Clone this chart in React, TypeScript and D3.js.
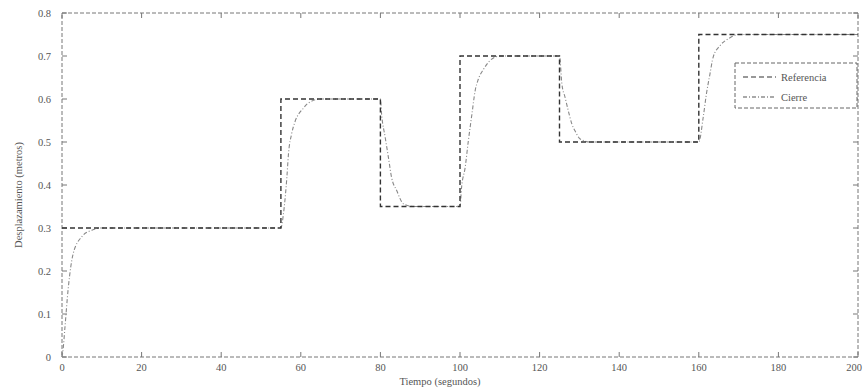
import React from "react";
import * as d3 from "d3";

const W = 863;
const H = 392;

// Reference (step) signal
const refTimes = [0, 55, 80, 100, 125, 160, 200];
const refValues = [0.3, 0.6, 0.35, 0.7, 0.5, 0.75, 0.75];

// Response curve, points
const respTimes = [
  0, 0.3, 0.75, 1.6, 2.8, 4.9, 7.5, 10,
  55, 55.6, 56.5, 56.9, 57.7, 58.5, 60.6, 61.8, 65,
  80, 80.3, 81.2, 82, 82.8, 84.1, 85.8, 88.2, 91,
  100, 100.4, 101.3, 102.1, 103, 103.8, 104.6, 105.9, 107.5, 110,
  125, 125.6, 126.4, 127.2, 128.1, 128.9, 130.2, 132.7, 135,
  160, 161.1, 161.9, 162.8, 163.6, 165.3, 167.4, 170,
  200,
];
const respValues = [
  0, 0.02, 0.07, 0.163, 0.24, 0.279, 0.295, 0.3,
  0.3, 0.33, 0.418, 0.472, 0.519, 0.546, 0.578, 0.59, 0.6,
  0.6, 0.565, 0.511, 0.465, 0.418, 0.387, 0.356, 0.35, 0.35,
  0.35, 0.395, 0.441, 0.503, 0.565, 0.619, 0.646, 0.669, 0.689, 0.7,
  0.7, 0.635, 0.604, 0.573, 0.542, 0.526, 0.507, 0.5, 0.5,
  0.5, 0.557, 0.611, 0.658, 0.697, 0.724, 0.74, 0.75,
  0.75,
];

const xTicks = [0, 20, 40, 60, 80, 100, 120, 140, 160, 180, 200];
const yTicks = [0, 0.1, 0.2, 0.3, 0.4, 0.5, 0.6, 0.7, 0.8];
const legendLabels = ["Referencia", "Cierre"];
const xLabel = "Tiempo (segundos)";
const yLabel = "Desplazamiento (metros)";

export default function App() {
  const left = 62, right = 858, top = 13, bottom = 357;
  const x = d3.scaleLinear().domain([0, 200]).range([left, right]);
  const y = d3.scaleLinear().domain([0, 0.8]).range([bottom, top]);

  const refPts: [number, number][] = refTimes.map((t, i) => [t, refValues[i]]);
  const respPts: [number, number][] = respTimes.map((t, i) => [t, respValues[i]]);

  const refLine = d3
    .line<[number, number]>()
    .x((d) => x(d[0]))
    .y((d) => y(d[1]))
    .curve(d3.curveStepAfter)(refPts) as string;
  const respLine = d3
    .line<[number, number]>()
    .x((d) => x(d[0]))
    .y((d) => y(d[1]))
    .curve(d3.curveMonotoneX)(respPts) as string;

  const font = "'Liberation Serif', serif";
  const axisColor = "#777";
  const textColor = "#555";
  const tl = 5;

  return (
    <div style={{ position: "absolute", left: 0, top: 0 }}>
      <svg width={W} height={H} style={{ display: "block", background: "#fff" }}>
        {/* frame */}
        <rect
          x={left}
          y={top}
          width={right - left}
          height={bottom - top}
          fill="none"
          stroke={axisColor}
          strokeWidth={1}
          strokeDasharray="4,2"
        />
        {/* ticks */}
        {xTicks.map((t) => (
          <g key={"xt" + t}>
            <line x1={x(t)} x2={x(t)} y1={bottom} y2={bottom - tl} stroke={axisColor} />
            <line x1={x(t)} x2={x(t)} y1={top} y2={top + tl} stroke={axisColor} />
            <text
              x={t === 200 ? W - 1 : x(t)}
              y={371}
              textAnchor={t === 200 ? "end" : "middle"}
              fontFamily={font}
              fontSize={10.5}
              fill={textColor}
            >
              {t}
            </text>
          </g>
        ))}
        {yTicks.map((t) => (
          <g key={"yt" + t}>
            <line x1={left} x2={left + tl} y1={y(t)} y2={y(t)} stroke={axisColor} />
            <line x1={right} x2={right - tl} y1={y(t)} y2={y(t)} stroke={axisColor} />
            <text
              x={51}
              y={y(t) + 3.5}
              textAnchor="end"
              fontFamily={font}
              fontSize={10.5}
              fill={textColor}
            >
              {t === 0 ? "0" : t.toFixed(1)}
            </text>
          </g>
        ))}
        {/* lines */}
        <path d={respLine} fill="none" stroke="#888" strokeWidth={1.1} strokeDasharray="4,2,1,2" />
        <path d={refLine} fill="none" stroke="#333" strokeWidth={1.4} strokeDasharray="5,3" />
        {/* axis labels */}
        <text x={440} y={385} textAnchor="middle" fontFamily={font} fontSize={10.5} fill={textColor}>
          {xLabel}
        </text>
        <text
          transform={`translate(22,${195}) rotate(-90)`}
          textAnchor="middle"
          fontFamily={font}
          fontSize={10.5}
          fill={textColor}
        >
          {yLabel}
        </text>
        {/* legend */}
        <g>
          <rect x={735} y={63} width={122} height={45} fill="#fff" stroke="#666" strokeDasharray="4,2" />
          <line x1={743} x2={776} y1={77} y2={77} stroke="#333" strokeWidth={1.2} strokeDasharray="5,3" />
          <text x={781} y={80.5} fontFamily={font} fontSize={10.5} fill={textColor}>
            {legendLabels[0]}
          </text>
          <line x1={743} x2={776} y1={97} y2={97} stroke="#555" strokeWidth={1.1} strokeDasharray="4,2,1,2" />
          <text x={781} y={100.5} fontFamily={font} fontSize={10.5} fill={textColor}>
            {legendLabels[1]}
          </text>
        </g>
      </svg>
    </div>
  );
}
